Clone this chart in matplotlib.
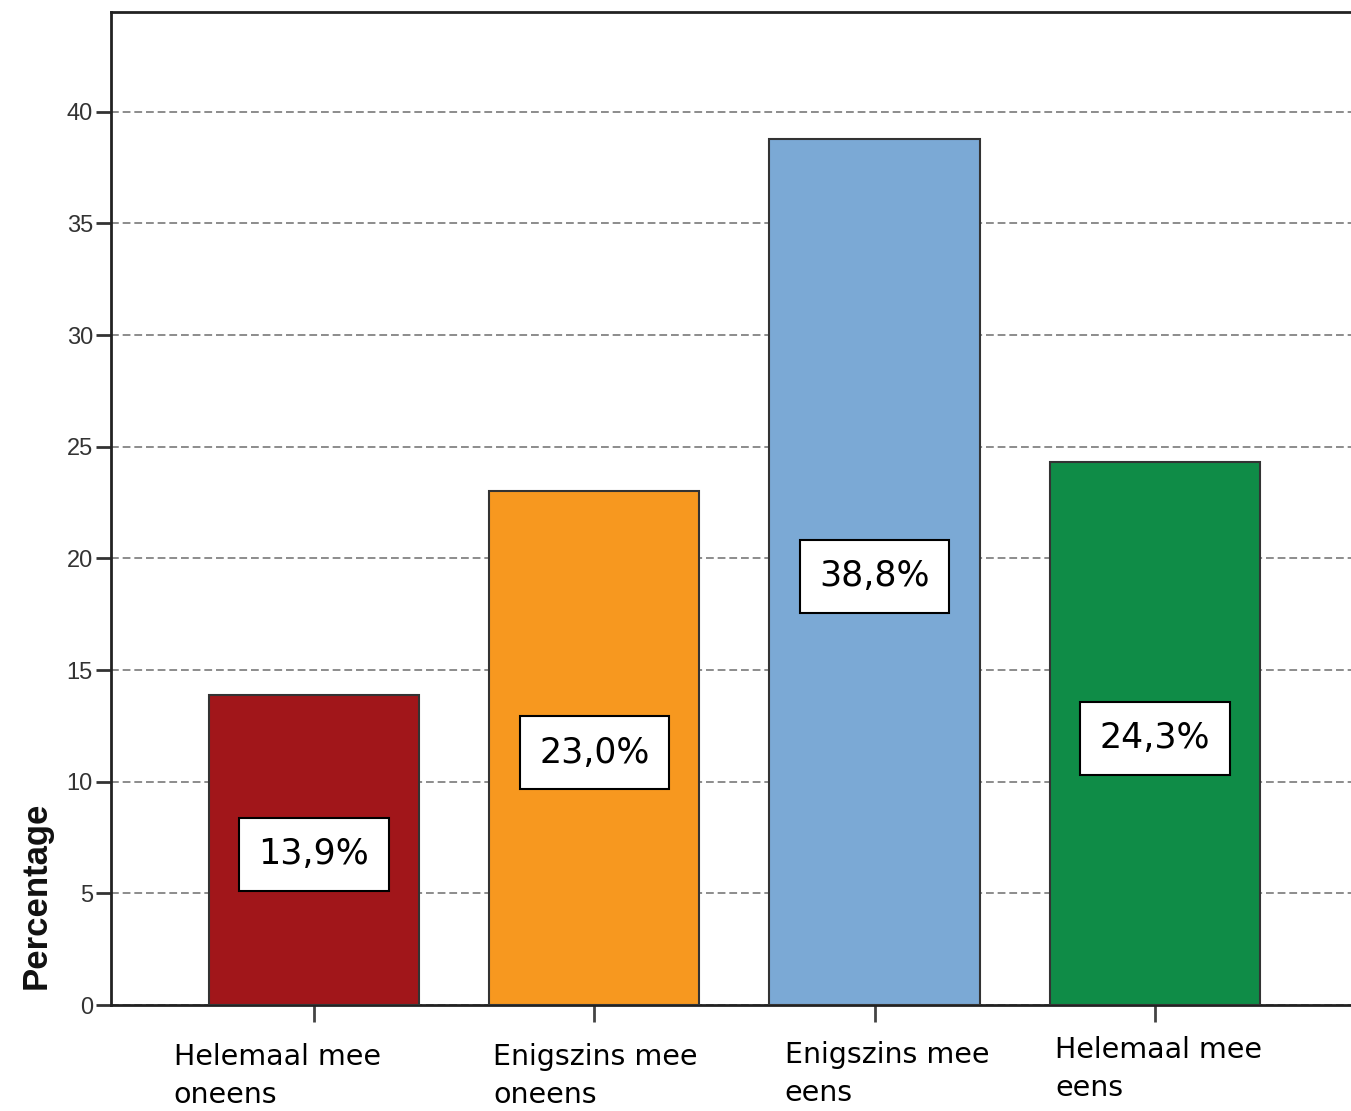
import matplotlib.pyplot as plt

categories = ['Helemaal mee\noneens', 'Enigszins mee\noneens', 'Enigszins mee\neens', 'Helemaal mee\neens']
values = [13.9, 23.0, 38.8, 24.3]
value_labels = ['13,9%', '23,0%', '38,8%', '24,3%']
colors = ['#A1161A', '#F7981F', '#7BA9D5', '#0F8C47']
yticks = [0, 5, 10, 15, 20, 25, 30, 35, 40]

# label placement (layout only)
label_dx = [-0.50, -0.36, -0.32, -0.355]
label_y = [1043, 1043, 1041, 1036]

fig = plt.figure(figsize=(13.51, 11.11), dpi=100)
W, H = 1351, 1111
left, bottom, top = 111, 1005, 12
xmin, xmax = -0.724, 3.724
width_px = (xmax - xmin) * 280.3
ax = fig.add_axes([left / W, (H - bottom) / H, width_px / W, (bottom - top) / H])

x = list(range(len(values)))
ax.bar(x, values, width=0.75, color=colors, edgecolor='#333333', linewidth=1.5, zorder=3)

ax.set_xlim(xmin, xmax)
ax.set_ylim(0, 44.47)
ax.set_yticks(yticks)
ax.set_yticklabels([str(t) for t in yticks], fontsize=17, color='#333333', family='Liberation Sans')
ax.set_xticks(x)
ax.set_xticklabels(['' for _ in x])
ax.tick_params(axis='y', direction='out', length=11, width=2, color='#333333', pad=2)
ax.tick_params(axis='x', direction='out', length=12, width=2, color='#444444')
ax.yaxis.grid(True, linestyle=(0, (4, 2)), color='#8c8c8c', linewidth=1.4, zorder=0)
ax.set_axisbelow(True)
for s in ax.spines.values():
    s.set_color('#222222')
    s.set_linewidth(2)

for xi, v, lab in zip(x, values, value_labels):
    ax.text(xi, v / 2 - 0.2, lab, ha='center', va='center', fontsize=25,
            family='DejaVu Sans', color='black', zorder=5,
            bbox=dict(boxstyle='square,pad=0.56', facecolor='white', edgecolor='black', linewidth=1.5))

for xi, cat, dx, ly in zip(x, categories, label_dx, label_y):
    xp = (left + (xi + dx - xmin) * 280.3) / W
    fig.text(xp, 1 - ly / H, cat, ha='left', va='top', fontsize=20.5,
             family='DejaVu Sans', color='black', linespacing=1.45)

fig.text(36 / W, 1 - 895 / H, 'Percentage', rotation=90, ha='center', va='center',
         fontsize=25, fontweight='bold', family='Liberation Sans', color='#111111')

fig.savefig('out.png', dpi=100)
